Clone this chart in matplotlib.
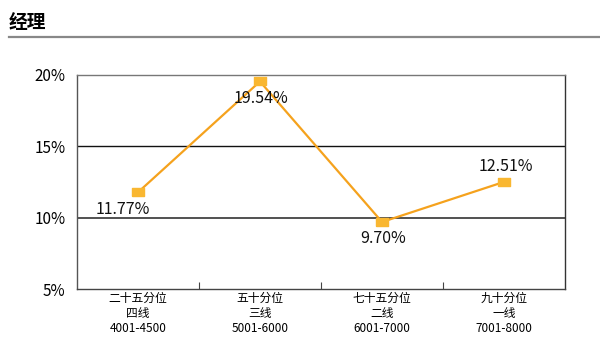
import matplotlib.pyplot as plt
from matplotlib.path import Path

plt.rcParams['font.family'] = ['Noto Sans CJK SC', 'DejaVu Sans']

# 数据
categories = ['二十五分位\n四线\n4001-4500', '五十分位\n三线\n5001-6000',
              '七十五分位\n二线\n6001-7000', '九十分位\n一线\n7001-8000']
values = [11.77, 19.54, 9.70, 12.51]
labels = ['11.77%', '19.54%', '9.70%', '12.51%']
# 标签偏移 (points)
offsets = [(-11, -12), (1, -12), (1, -12), (1, 11)]
yticks = [5, 10, 15, 20]

# 扁的方块标记
rect = Path([(-1.7, -1), (1.7, -1), (1.7, 1), (-1.7, 1), (-1.7, -1)])

fig = plt.figure(figsize=(6, 3.5), dpi=100)
fig.text(0.015, 0.937, '经理', fontsize=13.5, fontweight='bold', va='center')
fig.add_artist(plt.Line2D([0.015, 1.0], [0.894, 0.894], color='#888888', lw=1.6))

ax = fig.add_axes([0.128, 0.174, 0.814, 0.612])
x = list(range(len(values)))
ax.plot(x, values, color='#F5A21D', lw=1.6, marker=rect, markersize=9,
        markerfacecolor='#F9B731', markeredgecolor='#F9B731', zorder=3)
for xi, v, t, off in zip(x, values, labels, offsets):
    ax.annotate(t, (xi, v), xytext=off, textcoords='offset points',
                ha='center', va='center', fontsize=11.5, color='#111111')

ax.set_xlim(-0.5, 3.5)
ax.set_ylim(5, 20)
ax.set_yticks(yticks)
ax.set_yticklabels([f'{t}%' for t in yticks], fontsize=11)
ax.tick_params(axis='y', length=0, pad=8)
ax.axhline(15, color='#111111', lw=1, zorder=1)
ax.axhline(10, color='#333333', lw=1.2, zorder=1)

ax.set_xticks([0.5, 1.5, 2.5], minor=False)
ax.set_xticklabels([])
ax.set_xticks(x, minor=True)
ax.set_xticklabels(categories, minor=True, fontsize=8.5, linespacing=1.2)
ax.tick_params(axis='x', which='minor', length=0, pad=2)
ax.tick_params(axis='x', which='major', length=5, direction='in', color='#444444')

ax.spines['top'].set_color('#777777')
ax.spines['right'].set_color('#333333')
ax.spines['left'].set_color('#555555')
ax.spines['bottom'].set_color('#444444')
for s in ax.spines.values():
    s.set_linewidth(1)

fig.savefig('out.png', dpi=100)
